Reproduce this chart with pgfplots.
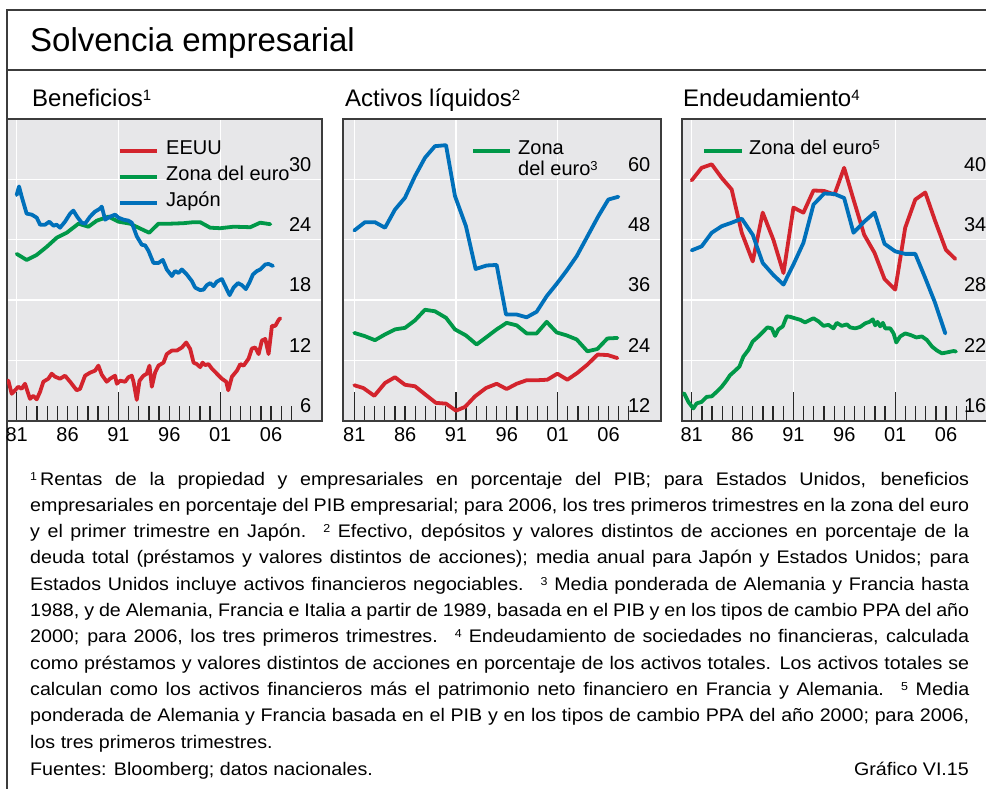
\documentclass[border=0pt]{standalone}
\usepackage{fontspec}
\setmainfont{Liberation Sans}
\newfontfamily\notefamily[FakeStretch=1.08]{Liberation Sans}
\usepackage{pgfplots}
\pgfplotsset{compat=1.18}

\definecolor{bggray}{RGB}{231,231,233}
\definecolor{framegray}{RGB}{60,60,60}
\definecolor{myred}{RGB}{211,36,45}
\definecolor{mygreen}{RGB}{0,152,72}
\definecolor{myblue}{RGB}{0,112,186}

\newcommand{\sups}[3]{\raisebox{#3}{\fontsize{#2}{#2}\selectfont #1}}
\newcommand{\titlefont}{\fontsize{33}{36}\selectfont}
\newcommand{\paneltitlefont}{\fontsize{24}{26}\selectfont}
\newcommand{\legfont}{\fontsize{20}{21.5}\selectfont}
\newcommand{\tickfont}{\fontsize{20}{20}\selectfont}
\newcommand{\notefont}{\notefamily\fontsize{18.2}{26.3}\selectfont}
\newcommand{\fn}[1]{\sups{#1}{11.5pt}{5pt}}
\newcommand{\fline}[2]{\node[anchor=base west, inner sep=0pt, font=\notefont] at (30pt,-#1pt) {\makebox[939pt][s]{#2}};}

\pgfplotsset{
  panel/.style={
    scale only axis, width=315pt, height=302pt, anchor=north west,
    axis background/.style={fill=bggray},
    axis line style={draw=framegray, line width=1.5pt},
    xtick={1981,1991,2001}, xticklabels={81,91,01},
    minor xtick={1982,...,2008},
    extra x ticks={1986,1996,2006}, extra x tick labels={86,96,06},
    extra x tick style={grid=none, major tick length=0pt},
    xmajorgrids, ymajorgrids,
    major grid style={white, line width=1.4pt},
    tick align=inside, xtick pos=left, ytick pos=right, yticklabel pos=right,
    major tick length=29pt, minor tick length=15pt,
    tick style={line width=1.3pt, black!85},
    ytick style={draw=none},
    /pgf/number format/assume math mode=true,
    xticklabel style={font=\tickfont, anchor=north, inner sep=0pt, yshift=-6pt},
    yticklabel style={font=\tickfont, anchor=south east, inner sep=0pt, xshift=-10.5pt, yshift=8pt},
    every axis plot/.append style={line width=3.8pt, line join=round, line cap=round, mark=none},
  }
}

\begin{document}
\begin{tikzpicture}
% frame
\draw[framegray, line width=1.3pt] (7pt,-800pt) -- (7pt,-10pt) -- (1000pt,-10pt);
\draw[framegray, line width=1.3pt] (7pt,-70pt) -- (1000pt,-70pt);
\node[anchor=base west, inner sep=0pt, font=\titlefont] at (30pt,-52pt) {Solvencia empresarial};

% panel titles
\node[anchor=base west, inner sep=0pt, font=\paneltitlefont] at (32pt,-107pt) {Beneficios\sups{1}{15pt}{6.5pt}};
\node[anchor=base west, inner sep=0pt, font=\paneltitlefont] at (345pt,-107pt) {Activos líquidos\sups{2}{15pt}{6.5pt}};
\node[anchor=base west, inner sep=0pt, font=\paneltitlefont] at (683pt,-107pt) {Endeudamiento\sups{4}{15pt}{6.5pt}};

% ---------- Panel 1: Beneficios ----------
\begin{axis}[panel, at={(7pt,-119pt)}, xmin=1980.05, xmax=2011.0, ymin=6, ymax=36, ytick={6,12,18,24,30}]
\addplot[myred] coordinates {
(1980.18,10.03)(1980.51,8.7)(1980.84,9.05)(1981.16,9.4)(1981.49,9.2)(1981.82,9.7)
(1982.31,8.2)(1982.64,8.5)(1982.97,8.15)(1983.30,8.9)(1983.62,9.9)(1984.11,10.2)
(1984.44,10.7)(1984.77,10.4)(1985.26,10.2)(1985.75,10.5)(1986.25,9.9)(1986.90,9.05)
(1987.23,9.2)(1987.72,10.5)(1988.21,10.8)(1988.70,11.0)(1989.03,11.5)(1989.36,10.6)
(1989.85,9.9)(1990.18,10.2)(1990.67,10.5)(1990.84,9.7)(1991.16,10.0)(1991.66,9.9)
(1991.98,10.35)(1992.31,10.5)(1992.48,9.9)(1992.80,8.1)(1993.07,10.0)(1993.46,10.5)
(1993.79,10.7)(1994.05,11.5)(1994.28,9.4)(1994.61,10.85)(1994.93,11.5)(1995.43,11.8)
(1995.75,12.65)(1996.25,13.0)(1996.74,13.0)(1997.23,13.3)(1997.66,13.8)(1998.05,13.15)
(1998.38,11.8)(1998.70,11.65)(1999.03,11.35)(1999.26,11.8)(1999.52,11.55)(1999.85,11.65)
(2000.18,11.2)(2000.67,10.7)(2001.16,10.2)(2001.59,9.9)(2001.79,9.05)(2002.15,10.4)
(2002.64,11.0)(2002.97,11.65)(2003.30,11.5)(2003.79,12.2)(2004.11,13.2)(2004.44,13.3)
(2004.77,12.65)(2005.10,14.0)(2005.43,14.15)(2005.75,12.65)(2006.08,15.45)(2006.41,15.45)
(2006.74,16.05)(2006.90,16.2)
};
\addplot[mygreen] coordinates {
(1981.00,22.6)(1981.98,22.0)(1982.97,22.5)(1983.95,23.3)(1984.93,24.2)(1985.92,24.7)
(1987.07,25.6)(1988.05,25.3)(1988.87,25.9)(1990.02,26.3)(1991.00,25.8)(1992.15,25.6)
(1992.97,25.2)(1994.02,24.7)(1994.93,25.6)(1996.08,25.6)(1997.39,25.65)(1998.38,25.75)
(1999.03,25.75)(2000.02,25.2)(2001.00,25.15)(2002.31,25.3)(2003.95,25.25)(2004.93,25.7)
(2005.92,25.55)
};
\addplot[myblue] coordinates {
(1981.00,28.45)(1981.23,29.3)(1981.49,28.3)(1981.98,26.6)(1982.48,26.5)(1982.97,26.2)
(1983.30,25.5)(1983.79,25.5)(1984.21,25.8)(1984.61,25.4)(1984.93,25.5)(1985.26,25.2)
(1985.75,25.8)(1986.25,26.6)(1986.57,26.9)(1986.97,26.25)(1987.39,25.7)(1987.72,25.6)
(1988.21,26.3)(1988.70,26.8)(1989.20,27.1)(1989.36,27.3)(1989.69,26.0)(1990.18,26.3)
(1990.67,26.5)(1991.00,26.2)(1991.49,26.0)(1991.98,25.9)(1992.31,25.7)(1992.80,24.35)
(1993.30,23.5)(1993.62,23.45)(1993.95,22.9)(1994.44,21.7)(1994.93,21.7)(1995.36,22.0)
(1995.75,21.05)(1996.25,20.4)(1996.57,20.9)(1996.90,20.7)(1997.23,21.05)(1997.72,20.55)
(1998.21,19.9)(1998.54,19.25)(1999.03,19.0)(1999.36,19.05)(1999.69,19.5)(2000.02,19.7)
(2000.34,19.4)(2000.67,19.85)(2001.16,20.1)(2001.49,19.4)(2001.92,18.5)(2002.31,19.25)
(2002.74,19.7)(2003.13,19.5)(2003.52,19.1)(2003.89,19.8)(2004.21,20.55)(2004.61,20.9)
(2004.93,21.05)(2005.43,21.55)(2005.75,21.6)(2006.18,21.4)
};
\end{axis}

% ---------- Panel 2: Activos liquidos ----------
\begin{axis}[panel, at={(343pt,-119pt)}, width=318pt, xmin=1979.89, xmax=2011.16, ymin=12, ymax=72, ytick={12,24,36,48,60}]
\addplot[myred] coordinates {
(1981.0,19.1)(1981.89,18.55)(1982.97,17.0)(1984.02,19.55)(1985.0,20.7)(1985.98,19.2)
(1986.97,18.9)(1988.02,17.2)(1989.03,15.6)(1990.02,15.45)(1991.0,14.05)(1991.89,14.8)
(1992.87,16.9)(1993.95,18.55)(1995.0,19.4)(1995.98,18.35)(1996.97,19.4)(1997.95,20.1)
(1999.0,20.1)(1999.98,20.2)(2000.97,21.4)(2001.95,20.2)(2002.93,21.55)(2003.92,23.2)
(2004.93,25.2)(2005.92,25.1)(2006.87,24.5)
};
\addplot[mygreen] coordinates {
(1981.0,29.5)(1982.05,28.85)(1983.03,28.05)(1984.02,29.2)(1985.0,30.2)(1985.98,30.5)
(1986.97,32.0)(1987.95,34.1)(1988.93,33.8)(1990.02,32.5)(1990.90,30.2)(1991.98,29.0)
(1993.03,27.2)(1994.02,28.7)(1995.0,30.2)(1995.98,31.5)(1996.97,31.0)(1997.95,29.4)
(1998.93,29.4)(1999.92,31.7)(2000.90,29.6)(2001.89,29.0)(2002.87,28.2)(2003.92,25.85)
(2004.90,26.3)(2005.89,28.4)(2006.87,28.5)
};
\addplot[myblue] coordinates {
(1981.0,49.85)(1982.05,51.5)(1983.03,51.5)(1984.02,50.4)(1985.0,54.0)(1985.98,56.35)
(1986.97,60.65)(1987.95,64.3)(1988.93,66.6)(1990.02,66.8)(1990.90,56.7)(1991.98,50.7)
(1992.93,42.2)(1994.02,42.9)(1995.0,43.0)(1995.92,33.15)(1996.97,33.15)(1997.95,32.6)
(1998.93,33.7)(1999.92,36.8)(2000.90,39.25)(2001.89,41.9)(2002.87,44.75)(2003.85,48.4)
(2005.0,52.7)(2005.98,56.0)(2006.97,56.55)
};
\end{axis}

% ---------- Panel 3: Endeudamiento ----------
\begin{axis}[panel, at={(682pt,-119pt)}, xmin=1980.05, xmax=2011.0, ymin=16, ymax=46, ytick={16,22,28,34,40}]
\addplot[myred] coordinates {
(1981.0,39.9)(1981.98,41.15)(1982.97,41.5)(1983.95,40.15)(1984.93,39.0)(1985.92,34.7)
(1987.0,31.85)(1987.98,36.7)(1989.03,34.0)(1990.02,30.7)(1991.0,37.2)(1991.98,36.7)
(1992.97,38.9)(1994.02,38.85)(1995.03,38.5)(1995.98,41.15)(1996.90,38.0)(1997.95,34.5)
(1998.97,32.7)(1999.95,30.1)(2001.0,29.05)(2001.98,35.2)(2002.97,38.0)(2003.95,38.7)
(2004.93,35.85)(2005.98,33.0)(2006.90,32.1)
};
\addplot[mygreen] coordinates {
(1980.25,18.75)(1980.67,17.9)(1981.16,17.25)(1981.49,17.75)(1981.98,17.9)(1982.48,18.4)
(1982.97,18.45)(1983.46,18.9)(1983.95,19.4)(1984.44,20.05)(1984.77,20.55)(1985.16,20.9)
(1985.69,21.4)(1986.08,22.4)(1986.57,23.05)(1987.0,23.9)(1987.56,24.4)(1988.05,24.9)
(1988.44,25.3)(1988.87,25.2)(1989.20,24.45)(1989.52,25.1)(1989.95,25.4)(1990.34,26.4)
(1990.67,26.35)(1991.16,26.2)(1991.66,26.05)(1992.15,25.8)(1992.64,26.05)(1992.97,26.2)
(1993.46,25.9)(1993.95,25.45)(1994.44,25.55)(1994.93,25.2)(1995.26,25.75)(1995.75,25.45)
(1996.25,25.6)(1996.57,25.3)(1997.07,25.2)(1997.56,25.35)(1998.05,25.7)(1998.48,25.85)
(1998.80,26.1)(1999.03,25.5)(1999.26,25.85)(1999.52,25.4)(1999.79,25.75)(2000.02,25.2)
(2000.51,25.2)(2000.84,24.7)(2001.10,23.8)(2001.49,24.4)(2001.98,24.7)(2002.48,24.55)
(2003.07,24.3)(2003.62,24.4)(2004.11,24.05)(2004.61,23.4)(2005.10,23.0)(2005.59,22.72)
(2006.02,22.8)(2006.48,22.9)(2006.74,22.95)(2006.97,22.9)
};
\addplot[myblue] coordinates {
(1981.0,32.95)(1981.98,33.35)(1982.97,34.7)(1983.95,35.35)(1984.93,35.7)(1985.92,36.1)
(1987.0,34.5)(1987.98,31.7)(1989.03,30.5)(1990.02,29.55)(1991.0,31.55)(1991.98,33.7)
(1992.97,37.5)(1994.02,38.6)(1995.03,38.55)(1995.98,38.15)(1996.90,34.7)(1997.95,35.8)
(1998.97,36.7)(1999.95,33.6)(2001.0,32.85)(2001.98,32.6)(2002.97,32.6)(2003.95,30.2)
(2004.93,27.7)(2005.92,24.7)
};
\end{axis}

% ---------- legends ----------
\draw[myred, line width=3.8pt] (120pt,-151pt) -- (157pt,-151pt);
\draw[mygreen, line width=3.8pt] (120pt,-176.7pt) -- (157pt,-176.7pt);
\draw[myblue, line width=3.8pt] (120pt,-203.3pt) -- (157pt,-203.3pt);
\node[anchor=base west, inner sep=0pt, font=\legfont] at (166pt,-154.5pt) {EEUU};
\node[anchor=base west, inner sep=0pt, font=\legfont] at (166pt,-180.2pt) {Zona del euro};
\node[anchor=base west, inner sep=0pt, font=\legfont] at (166pt,-206.8pt) {Japón};

\draw[mygreen, line width=3.8pt] (473pt,-151pt) -- (510pt,-151pt);
\node[anchor=base west, inner sep=0pt, font=\legfont] at (518pt,-154.5pt) {Zona};
\node[anchor=base west, inner sep=0pt, font=\legfont] at (518pt,-175.5pt) {del euro\sups{3}{13pt}{5pt}};

\draw[mygreen, line width=3.8pt] (704pt,-151pt) -- (742pt,-151pt);
\node[anchor=base west, inner sep=0pt, font=\legfont] at (749pt,-154.5pt) {Zona del euro\sups{5}{13pt}{5pt}};

% ---------- footnotes ----------
\fline{485.0}{\fn{1}\,Rentas de la propiedad y empresariales en porcentaje del PIB; para Estados Unidos, beneficios}
\fline{511.3}{empresariales en porcentaje del PIB empresarial; para 2006, los tres primeros trimestres en la zona del euro}
\fline{537.6}{y el primer trimestre en Japón.\hspace{17pt}\fn{2} Efectivo, depósitos y valores distintos de acciones en porcentaje de la}
\fline{563.9}{deuda total (préstamos y valores distintos de acciones); media anual para Japón y Estados Unidos; para}
\fline{590.2}{Estados Unidos incluye activos financieros negociables.\hspace{17pt}\fn{3} Media ponderada de Alemania y Francia hasta}
\fline{616.5}{1988, y de Alemania, Francia e Italia a partir de 1989, basada en el PIB y en los tipos de cambio PPA del año}
\fline{642.8}{2000; para 2006, los tres primeros trimestres.\hspace{17pt}\fn{4} Endeudamiento de sociedades no financieras, calculada}
\fline{669.1}{como préstamos y valores distintos de acciones en porcentaje de los activos totales. Los activos totales se}
\fline{695.4}{calculan como los activos financieros más el patrimonio neto financiero en Francia y Alemania.\hspace{17pt}\fn{5} Media}
\fline{721.7}{ponderada de Alemania y Francia basada en el PIB y en los tipos de cambio PPA del año 2000; para 2006,}
\node[anchor=base west, inner sep=0pt, font=\notefont] at (30pt,-748.2pt) {los tres primeros trimestres.};
\node[anchor=base west, inner sep=0pt, font=\notefont] at (30pt,-775pt) {Fuentes: Bloomberg; datos nacionales.};
\node[anchor=base east, inner sep=0pt, font=\notefont] at (969pt,-775pt) {Gráfico VI.15};

\pgfresetboundingbox
\path[use as bounding box] (0pt,0pt) rectangle (986pt,-789pt);
\end{tikzpicture}
\end{document}
